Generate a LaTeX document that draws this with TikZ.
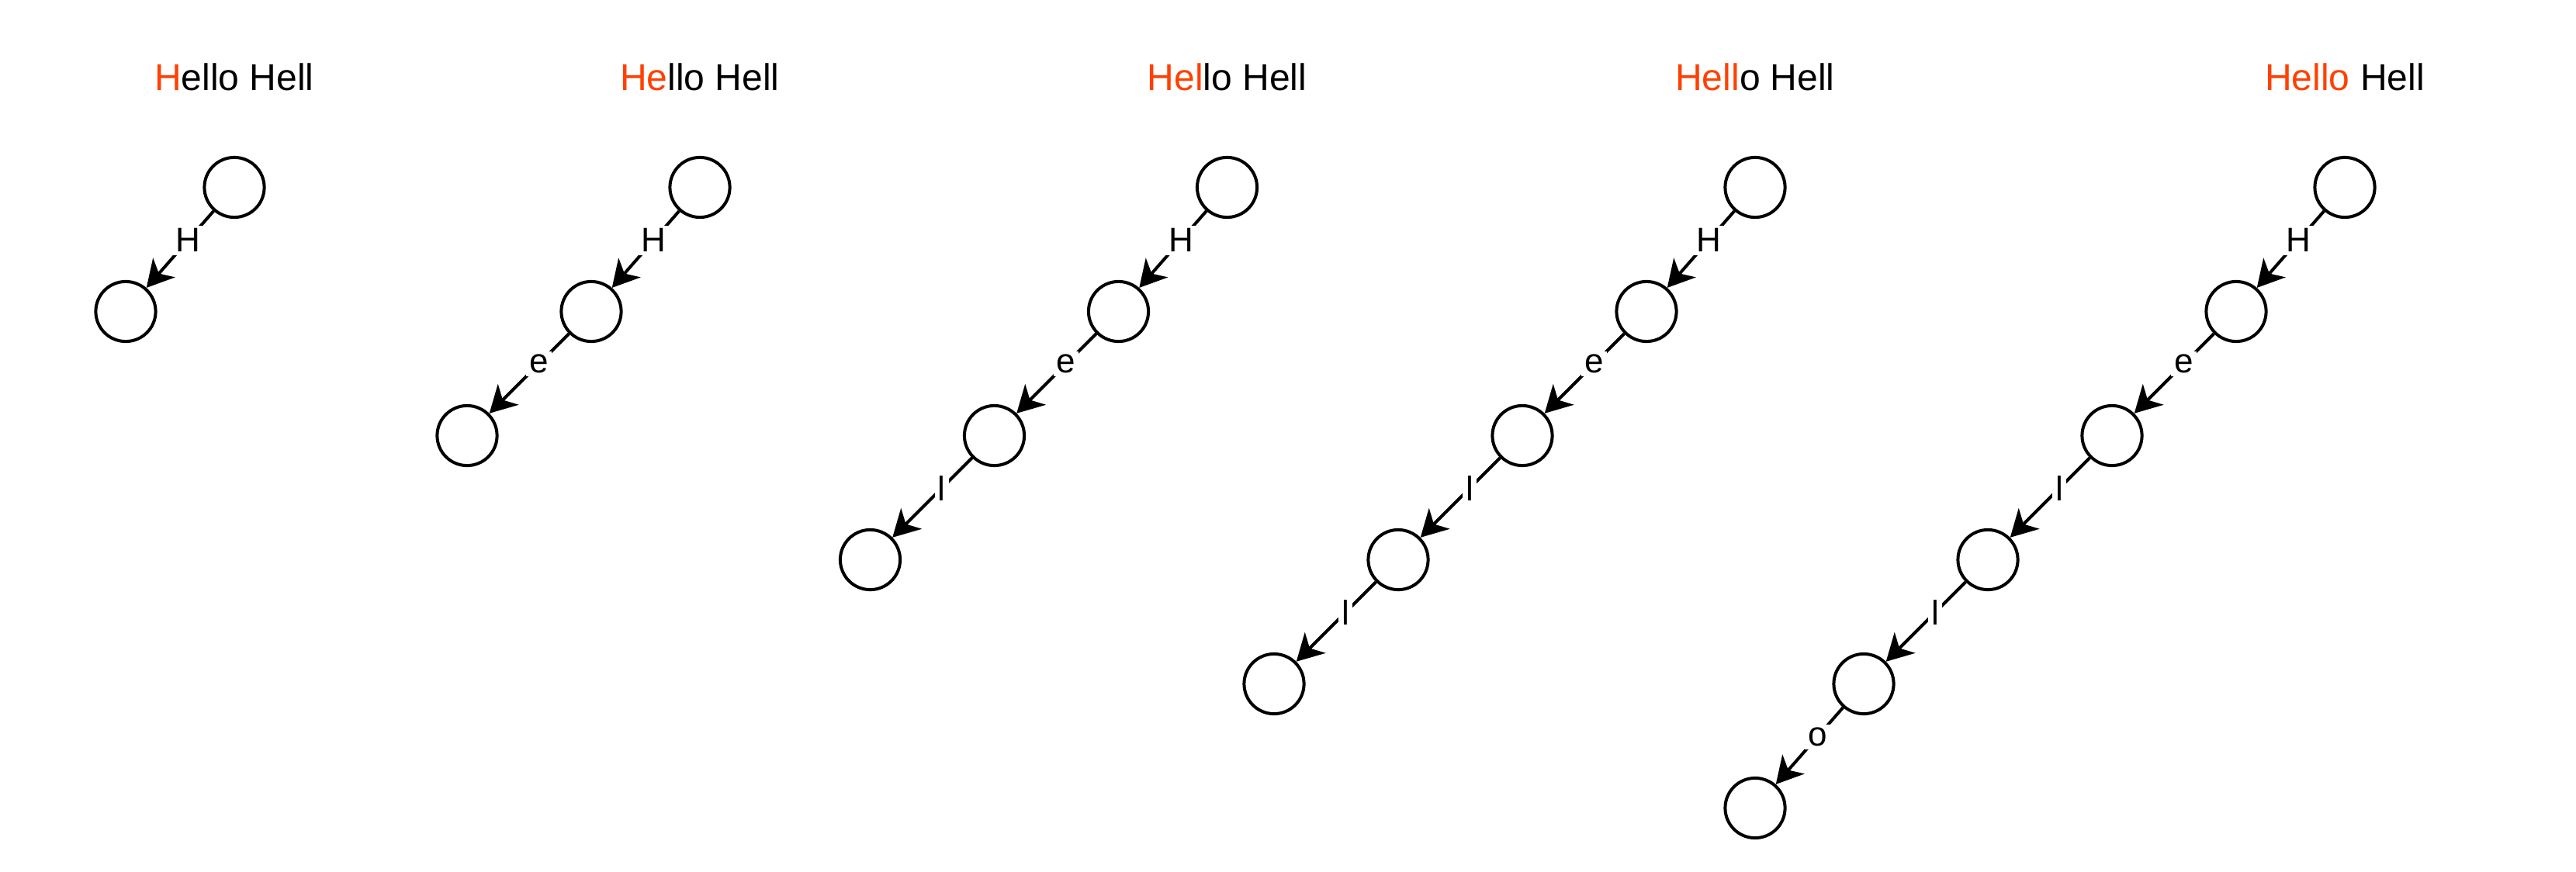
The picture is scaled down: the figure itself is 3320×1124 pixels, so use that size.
\documentclass[tikz,border=0pt]{standalone}
\usepackage{fontspec}
\setmainfont{Liberation Sans}
\usetikzlibrary{trees,arrows.meta}
\definecolor{hit}{HTML}{FF4000}
\tikzset{
state/.style={draw, circle, line width=1pt, minimum size=19.3pt, inner sep=0pt},
lbl/.style={fill=white, inner sep=1pt, pos=0.38, font=\fontsize{11}{13}\selectfont},
word/.style={anchor=base, font=\fontsize{12}{14}\selectfont},
short hop/.style={grow via three points={one child at (-140,-160) and two children at (0,0) and (0,0)}},
long hop/.style={grow via three points={one child at (-160,-160) and two children at (0,0) and (0,0)}}
}
\newcommand{\hl}[1]{\textcolor{hit}{#1}}

\begin{document}
\begin{tikzpicture}[x=0.25pt, y=0.25pt, level/.style={long hop}, level 1/.style={short hop},
	edge from parent/.style={draw, line width=1pt, -{Stealth[length=8.6pt,width=9.4pt,inset=2.5pt]}}]
	\useasboundingbox (0,0) rectangle (3320,-1124);
	% H
	\node[word] (t1) at (302,-116) {\hl{H}ello Hell};
	\node[state] (p1a) at (302,-241.5) {}
	child { node[state] (p1b) {} edge from parent node[lbl] {H} };
	% He
	\node[word] (t2) at (902,-116) {\hl{He}llo Hell};
	\node[state] (p2a) at (902,-241.5) {}
	child { node[state] (p2b) {}
		child { node[state] (p2c) {} edge from parent node[lbl] {e} }
		edge from parent node[lbl] {H} };
	% Hel
	\node[word] (t3) at (1581.5,-116) {\hl{Hel}lo Hell};
	\node[state] (p3a) at (1581.5,-241.5) {}
	child { node[state] (p3b) {}
		child { node[state] (p3c) {}
			child { node[state] (p3d) {} edge from parent node[lbl] {l} }
			edge from parent node[lbl] {e} }
		edge from parent node[lbl] {H} };
	% Hell
	\node[word] (t4) at (2262,-116) {\hl{Hell}o Hell};
	\node[state] (p4a) at (2262,-241.5) {}
	child { node[state] (p4b) {}
		child { node[state] (p4c) {}
			child { node[state] (p4d) {}
				child { node[state] (p4e) {} edge from parent node[lbl] {l} }
				edge from parent node[lbl] {l} }
			edge from parent node[lbl] {e} }
		edge from parent node[lbl] {H} };
	% Hello
	\begin{scope}[level 5/.style={short hop}]
	\node[word] (t5) at (3022,-116) {\hl{Hello} Hell};
	\node[state] (p5a) at (3022,-241.5) {}
	child { node[state] (p5b) {}
		child { node[state] (p5c) {}
			child { node[state] (p5d) {}
				child { node[state] (p5e) {}
					child { node[state] (p5f) {} edge from parent node[lbl] {o} }
					edge from parent node[lbl] {l} }
				edge from parent node[lbl] {l} }
			edge from parent node[lbl] {e} }
		edge from parent node[lbl] {H} };
	\end{scope}
\end{tikzpicture}
\end{document}
